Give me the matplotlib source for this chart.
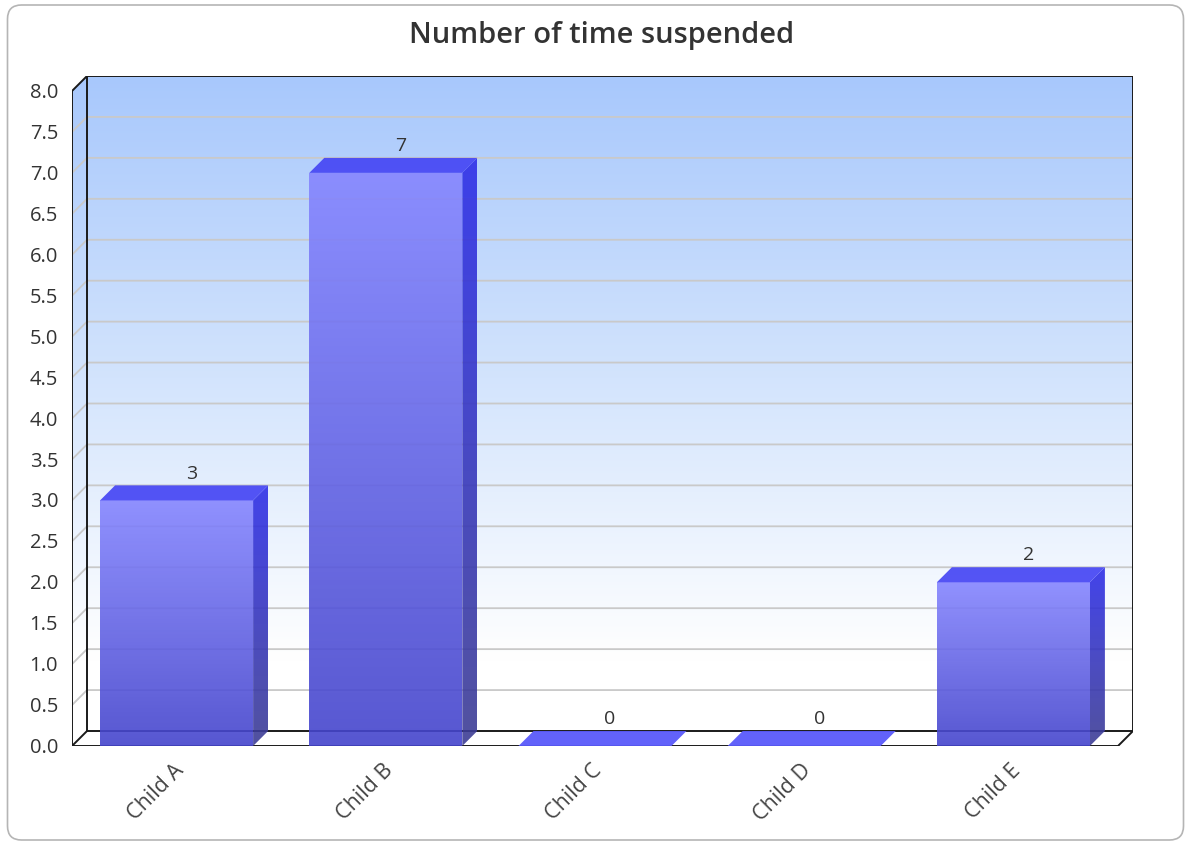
import numpy as np
import matplotlib.pyplot as plt
from matplotlib.path import Path
from matplotlib.patches import Polygon, FancyBboxPatch
from matplotlib.colors import LinearSegmentedColormap
from matplotlib.transforms import IdentityTransform

# ---- data ----
categories = ['Child A', 'Child B', 'Child C', 'Child D', 'Child E']
values = [3, 7, 0, 0, 2]
y_ticks = np.arange(0, 8.01, 0.5)
y_tick_labels = [f'{t:.1f}' for t in y_ticks]
title = 'Number of time suspended'

plt.rcParams['font.family'] = ['Open Sans', 'DejaVu Sans']

W, H, DPI = 1187, 843, 100
fig = plt.figure(figsize=(W / DPI, H / DPI), dpi=DPI)

# front plane of the 3D box in pixels, plus the depth offset
FL, FR, FB, FT = 72, 1118, 746, 91
DEPTH = 15
n = len(categories)
ymax = 8.0
dx = DEPTH / (FR - FL) * n
dy = DEPTH / (FB - FT) * ymax

ax = fig.add_axes([FL / W, 1 - FB / H, (FR + DEPTH - FL) / W, (FB - FT + DEPTH) / H])
ax.set_xlim(0, n + dx)
ax.set_ylim(0, ymax + dy)
ax.axis('off')


def gradient_fill(verts, top_color, bottom_color, alpha=1.0, zorder=1):
    verts = np.asarray(verts, float)
    x0, y0 = verts.min(axis=0)
    x1, y1 = verts.max(axis=0)
    cmap = LinearSegmentedColormap.from_list('g', [bottom_color, top_color])
    grad = np.linspace(0, 1, 256).reshape(-1, 1)
    im = ax.imshow(grad, extent=[x0, x1, y0, y1], origin='lower', cmap=cmap,
                   aspect='auto', interpolation='bicubic', alpha=alpha, zorder=zorder)
    im.set_clip_path(Path(np.vstack([verts, verts[:1]]), closed=True), ax.transData)
    return im


# back wall + left wall background
wall = [(0, 0), (0, ymax), (dx, ymax + dy), (n + dx, ymax + dy), (n + dx, dy), (n, 0)]
cmap_bg = LinearSegmentedColormap.from_list(
    'bg', [(0.0, '#ffffff'), (0.13, '#ffffff'), (0.55, '#d3e4fd'), (1.0, '#a8c8fc')])
grad = np.linspace(0, 1, 256).reshape(-1, 1)
im = ax.imshow(grad, extent=[0, n + dx, 0, ymax + dy], origin='lower', cmap=cmap_bg,
               aspect='auto', interpolation='bicubic', zorder=0)
im.set_clip_path(Path(np.vstack([wall, wall[:1]]), closed=True), ax.transData)
ax.set_xlim(0, n + dx)
ax.set_ylim(0, ymax + dy)

# grid lines on the walls
for t in y_ticks[1:-1]:
    ax.plot([0, dx, n + dx], [t, t + dy, t + dy], color='#c9c9c9', lw=1.3, zorder=1)

# box outline
line_kw = dict(color='#1a1a1a', lw=1.4, zorder=2, solid_capstyle='projecting')
ax.plot([dx, dx, n + dx, n + dx], [dy, ymax + dy, ymax + dy, dy], **line_kw)
ax.plot([dx, n + dx], [dy, dy], **line_kw)
ax.plot([0, 0], [0, ymax], **line_kw)
ax.plot([0, dx], [ymax, ymax + dy], **line_kw)
ax.plot([0, dx], [0, dy], **line_kw)
ax.plot([0, n, n + dx], [0, 0, dy], **line_kw)

# bars
bw = 153 / ((FR - FL) / n)
ALPHA = 0.9
for i, v in enumerate(values):
    x0 = i + (1 - bw) / 2
    x1 = x0 + bw
    top = [(x0, v), (x0 + dx, v + dy), (x1 + dx, v + dy), (x1, v)]
    if v > 0:
        gradient_fill([(x0, 0), (x1, 0), (x1, v), (x0, v)], '#8686ff', '#4444cc',
                      alpha=ALPHA, zorder=3)
        gradient_fill([(x1, 0), (x1 + dx, dy), (x1 + dx, v + dy), (x1, v)],
                      '#2f2fe8', '#3e3e94', alpha=ALPHA, zorder=3)
        ax.add_patch(Polygon(top, closed=True, facecolor='#4646f4', edgecolor='none',
                             alpha=0.92, zorder=3))
    else:
        ax.add_patch(Polygon(top, closed=True, facecolor='#5a5afa', edgecolor='none',
                             alpha=0.95, zorder=3))
    ax.annotate(f'{v}', (i + 0.5 + dx, v + dy), xytext=(0, 2), textcoords='offset points',
                ha='center', va='bottom', fontsize=14, color='#333333', zorder=5)
    ax.annotate(categories[i], (i + 0.5, 0), xytext=(-2.5, -10), textcoords='offset points',
                ha='right', va='top', rotation=45, rotation_mode='anchor',
                fontsize=15.5, color='#444444', zorder=5)

# y tick labels on the front plane
for t, lab in zip(y_ticks, y_tick_labels):
    ax.annotate(lab, (0, t), xytext=(-10, -1.5), textcoords='offset points',
                ha='right', va='center', fontsize=14.5, color='#333333')

fig.text(602 / W, 1 - 35 / H, title, ha='center', va='center', fontsize=21,
         fontweight='semibold', color='#333333')

# rounded frame around the whole chart
frame = FancyBboxPatch((7.5, 3), 1176, 835, boxstyle='round,pad=0,rounding_size=14',
                       transform=IdentityTransform(), facecolor='none',
                       edgecolor='#b5b5b5', lw=1.2)
fig.patches.append(frame)

fig.savefig('out.png', dpi=DPI)
